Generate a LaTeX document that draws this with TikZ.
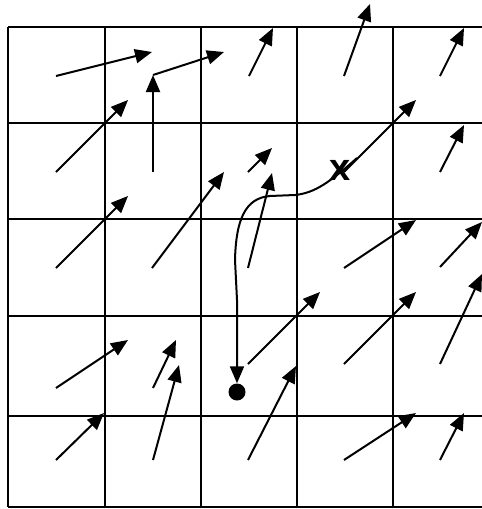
\documentclass[tikz,border=0pt]{standalone}
\usepackage{fontspec}
\setmainfont{Liberation Sans}
\usetikzlibrary{arrows.meta}
\begin{document}
\begin{tikzpicture}[x=1pt,y=-1pt,
  gridline/.style={line width=2pt},
  vec/.style={line width=2pt,-{Triangle[length=17pt,width=14pt]}},
  path/.style={line width=2pt,-{Triangle[length=17pt,width=14pt]}}]
\useasboundingbox (0,0) rectangle (482,509);
\begin{scope}
\clip (0,0) rectangle (482,509);
% grid
\foreach \y in {27,123,219,316,416,507}
  \draw[gridline] (8,\y) -- (495,\y);
\foreach \x in {8,105,201,297,393}
  \draw[gridline] (\x,27) -- (\x,507);
% overdrawn segments
\draw[line width=2.8pt] (201,310) -- (201,507);
\draw[line width=2.8pt] (105,416) -- (369,416);
% row 1
\draw[vec] (56,76) -- (152,52);
\draw[vec] (153,75) -- (224,52);
\draw[vec] (249,76) -- (273,28);
\draw[vec] (344,76) -- (370,4);
\draw[vec] (440,76) -- (464,28);
% row 2
\draw[vec] (56,172) -- (128,100);
\draw[vec] (153,172) -- (153,75);
\draw[vec] (248,172) -- (272,148);
\draw[vec] (344,172) -- (416,100);
\draw[vec] (440,172) -- (464,125);
% row 3
\draw[vec] (56,268) -- (128,196);
\draw[vec] (152,268) -- (224,172);
\draw[vec] (248,268) -- (272,173);
\draw[vec] (344,268) -- (416,220);
\draw[vec] (440,267) -- (482,222);
% row 4
\draw[vec] (56,388) -- (128,340);
\draw[vec] (153,388) -- (176,340);
\draw[vec] (248,364) -- (320,292);
\draw[vec] (344,364) -- (416,292);
\draw[vec] (440,364) -- (482,274);
% row 5
\draw[vec] (56,460) -- (104,413);
\draw[vec] (153,460) -- (179,365);
\draw[vec] (248,460) -- (296,366);
\draw[vec] (344,460) -- (416,413);
\draw[vec] (440,460) -- (464,413);
\end{scope}
% trajectory
\node[font=\fontsize{38}{38}\selectfont\bfseries, inner sep=0pt] (cross) at (340,170) {x};
\node[circle, fill=black, minimum size=17pt, inner sep=0pt] (dot) at (237,392) {};
\coordinate (start) at (357,158);
\draw[path] (start) .. controls (330,182) and (315,193) .. (295,195)
  -- (270,196) .. controls (245,198) and (236,220) .. (235,260)
  -- (237,300) -- (dot.north);
\end{tikzpicture}
\end{document}
